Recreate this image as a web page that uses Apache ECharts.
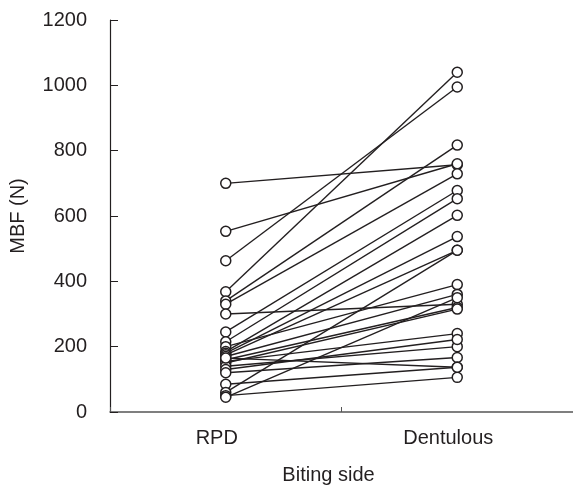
<!DOCTYPE html>
<html>
<head>
<meta charset="utf-8">
<script src="https://cdn.jsdelivr.net/npm/echarts@6/dist/echarts.min.js"></script>
<style>html,body{margin:0;padding:0;background:#fff}#c{width:573px;height:490px}</style>
</head>
<body>
<div id="c"></div>
<script>
var categories = ['RPD', 'Dentulous'];
var yTicks = [0, 200, 400, 600, 800, 1000, 1200];
// paired values per subject: RPD side vs dentulous side
var rpd =       [700, 553, 463, 368, 340, 330, 300, 245, 215, 200, 185, 180, 175, 170, 160, 155, 150, 140, 130, 120, 85, 60, 50, 45, 165];
var dentulous = [757, 760, 995, 1040, 817, 729, 330, 678, 653, 390, 602, 537, 495, 360, 320, 240, 315, 200, 222, 167, 137, 495, 106, 350, 137];

var series = rpd.map(function (v, i) {
  return {
    type: 'line',
    data: [v, dentulous[i]],
    symbol: 'circle',
    symbolSize: 10,
    itemStyle: { color: '#fff', borderColor: '#231f20', borderWidth: 1.5 },
    lineStyle: { color: '#231f20', width: 1.4 },
    emphasis: { disabled: true },
    animation: false
  };
});

var chart = echarts.init(document.getElementById('c'), null, { renderer: 'canvas' });
chart.setOption({
  backgroundColor: '#fff',
  textStyle: { fontFamily: 'Liberation Sans, Arial, sans-serif' },
  grid: { left: 110, right: 0, top: 20, bottom: 75, containLabel: false },
  xAxis: {
    type: 'category',
    data: categories,
    boundaryGap: true,
    name: 'Biting side',
    nameLocation: 'middle',
    nameGap: 53,
    nameTextStyle: { fontSize: 20, color: '#231f20', padding: [0, 26, 0, 0] },
    axisLine: { lineStyle: { color: '#555', width: 1.5 } },
    axisTick: { show: true, inside: true, length: 5, alignWithLabel: false, lineStyle: { color: '#555' } },
    axisLabel: { fontSize: 20, color: '#231f20', margin: 16, padding: [0, 18, 0, 0] },
    splitLine: { show: false }
  },
  yAxis: {
    type: 'value',
    min: yTicks[0],
    max: yTicks[yTicks.length - 1],
    interval: 200,
    name: 'MBF (N)',
    nameLocation: 'middle',
    nameGap: 82,
    nameTextStyle: { fontSize: 20, color: '#231f20' },
    axisLine: { show: true, lineStyle: { color: '#231f20', width: 1.2 } },
    axisTick: { show: true, inside: true, length: 8, lineStyle: { color: '#231f20' } },
    axisLabel: { fontSize: 20, color: '#231f20', margin: 23, formatter: function (v) { return String(v); } },
    splitLine: { show: false }
  },
  series: series
});
</script>
</body>
</html>
